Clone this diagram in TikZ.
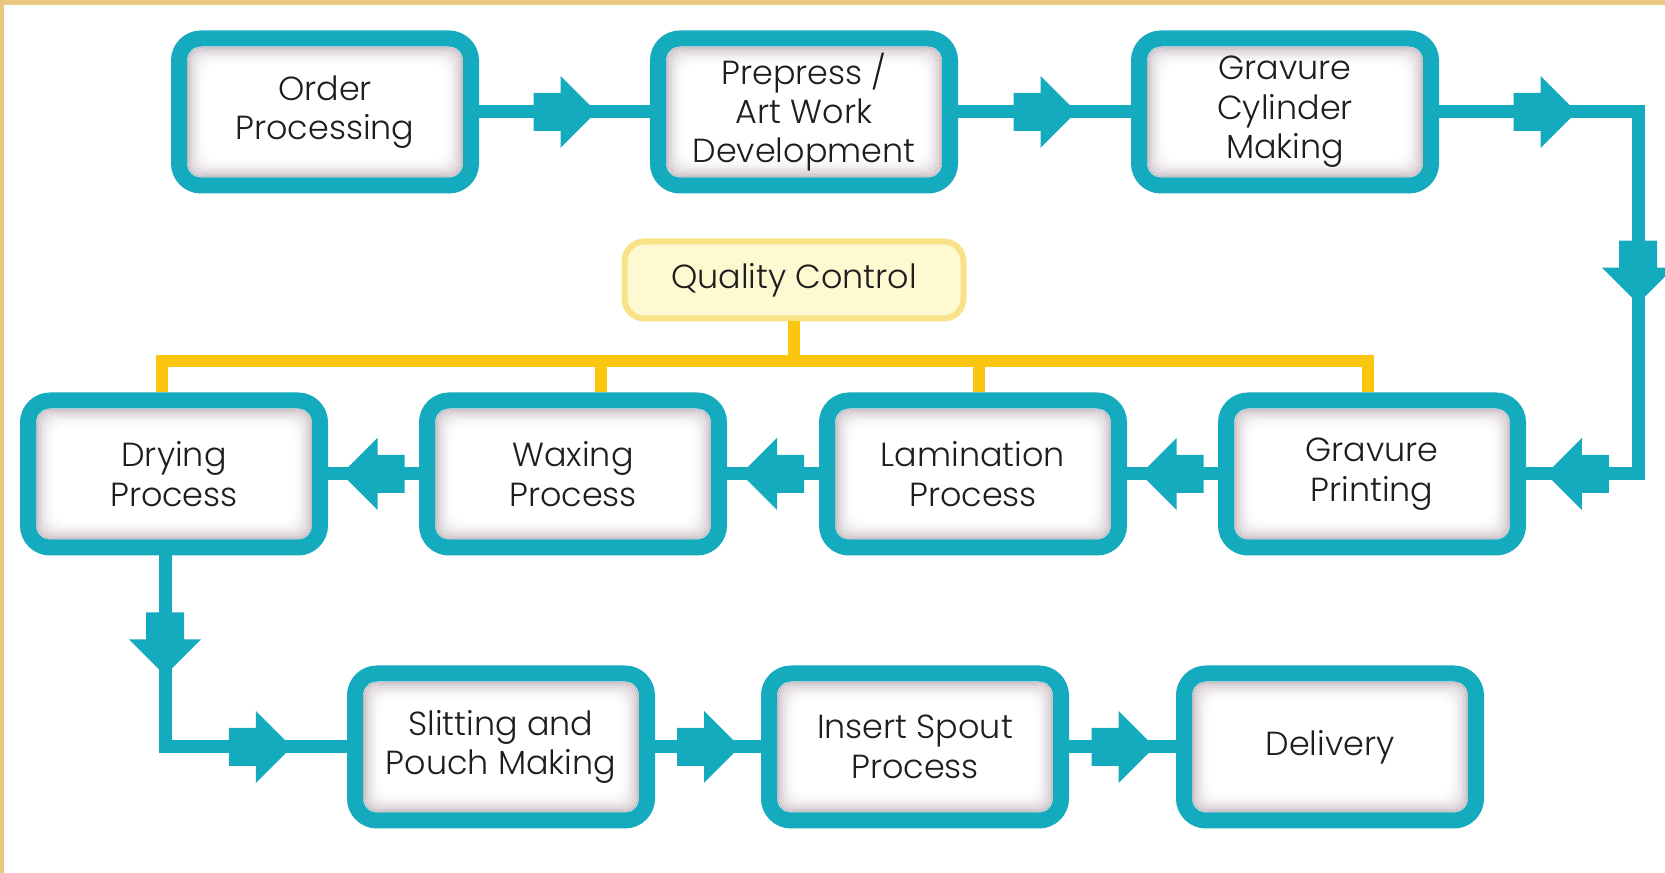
\documentclass[tikz,border=0pt]{standalone}
\usepackage{fontspec}
\setmainfont{Poppins}[UprightFont={* Light}]
\usepackage{tikz}
\usetikzlibrary{calc,decorations.markings}

\definecolor{flowteal}{RGB}{21,171,191}
\definecolor{framegold}{RGB}{234,200,132}
\definecolor{qcgold}{RGB}{250,198,16}
\definecolor{qcedge}{RGB}{250,226,135}
\definecolor{qcfill}{RGB}{255,249,210}
\definecolor{shadegrey}{RGB}{170,155,165}
\definecolor{textgrey}{RGB}{30,30,30}

\newcommand{\blockhead}{\fill [flowteal] (-0.31,-0.19) rectangle (-0.03,0.19) (-0.04,0.36) -- (0.32,0) -- (-0.04,-0.36) -- cycle;}

\tikzset{
	stepbox/.style={draw=flowteal, line width=0.16cm, fill=white, rounded corners=0.22cm,
		minimum width=2.92cm, minimum height=1.47cm, align=center, text=textgrey,
		font=\fontsize{9.5}{11.2}\selectfont,
		path picture={
			\foreach \k/\s in {0/62,1/52,2/43,3/35,4/28,5/22,6/16,7/11,8/7,9/4,10/2}
				\draw [shadegrey!\s, line width=0.018cm, rounded corners=0.14cm]
					([shift={(0.09+0.016*\k,0.09+0.016*\k)}]path picture bounding box.south west) rectangle
					([shift={(-0.09-0.016*\k,-0.09-0.016*\k)}]path picture bounding box.north east);
		}},
	qcbox/.style={draw=qcedge, line width=0.06cm, fill=qcfill, rounded corners=0.2cm,
		minimum width=3.39cm, minimum height=0.77cm, text=textgrey,
		font=\fontsize{9.5}{11.2}\selectfont},
	flow/.style={draw=flowteal, line width=0.13cm},
	qcline/.style={draw=qcgold, line width=0.12cm},
	head at/.style={postaction={decorate, decoration={markings, mark=at position #1 with {\blockhead}}}}
}

\begin{document}
\begin{tikzpicture}
	\useasboundingbox (0,0) rectangle (16.65,-8.73);
	\fill [framegold] (0,0) rectangle (16.65,-8.73);
	\fill [white] (0.04,-0.05) rectangle (16.65,-8.73);

	% first row
	\node [stepbox] (order) at (3.25,-1.12) {Order\\Processing};
	\node [stepbox] (prepress) at (8.04,-1.12) {Prepress /\\Art Work\\Development};
	\node [stepbox] (cylinder) at (12.85,-1.12) {Gravure\\Cylinder\\Making};

	% second row
	\node [stepbox] (drying) at (1.74,-4.74) {Drying\\Process};
	\node [stepbox] (waxing) at (5.73,-4.74) {Waxing\\Process};
	\node [stepbox] (lamination) at (9.73,-4.74) {Lamination\\Process};
	\node [stepbox] (printing) at (13.72,-4.74) {Gravure\\Printing};

	% third row
	\node [stepbox] (slitting) at (5.01,-7.47) {Slitting and\\Pouch Making};
	\node [stepbox] (spout) at (9.15,-7.47) {Insert Spout\\Process};
	\node [stepbox] (delivery) at (13.30,-7.47) {Delivery};

	\node [qcbox] (qc) at (7.94,-2.80) {Quality Control};

	% quality control links
	\draw [qcline] (qc.south) -- ++(0,-0.45);
	\draw [qcline] ([xshift=-0.12cm]drying.north) -- ++(0,0.315) -| ([xshift=-0.04cm]printing.north);
	\draw [qcline] ([xshift=0.28cm]waxing.north) -- ++(0,0.315);
	\draw [qcline] ([xshift=0.06cm]lamination.north) -- ++(0,0.315);

	% flow
	\draw [flow, head at=0.5] (order) -- (prepress);
	\draw [flow, head at=0.5] (prepress) -- (cylinder);
	\coordinate (turna) at (16.38,-1.12);
	\coordinate (turnb) at (16.38,-4.74);
	\draw [flow, head at=0.157, head at=0.533, head at=0.923] (cylinder.east) -- (turna) -- (turnb) -- (printing.east);
	\draw [flow, head at=0.5] (printing) -- (lamination);
	\draw [flow, head at=0.5] (lamination) -- (waxing);
	\draw [flow, head at=0.5] (waxing) -- (drying);
	\draw [flow, head at=0.235, head at=0.767] ([xshift=-0.09cm]drying.south) |- (slitting.west);
	\draw [flow, head at=0.5] (slitting) -- (spout);
	\draw [flow, head at=0.5] (spout) -- (delivery);
\end{tikzpicture}
\end{document}
